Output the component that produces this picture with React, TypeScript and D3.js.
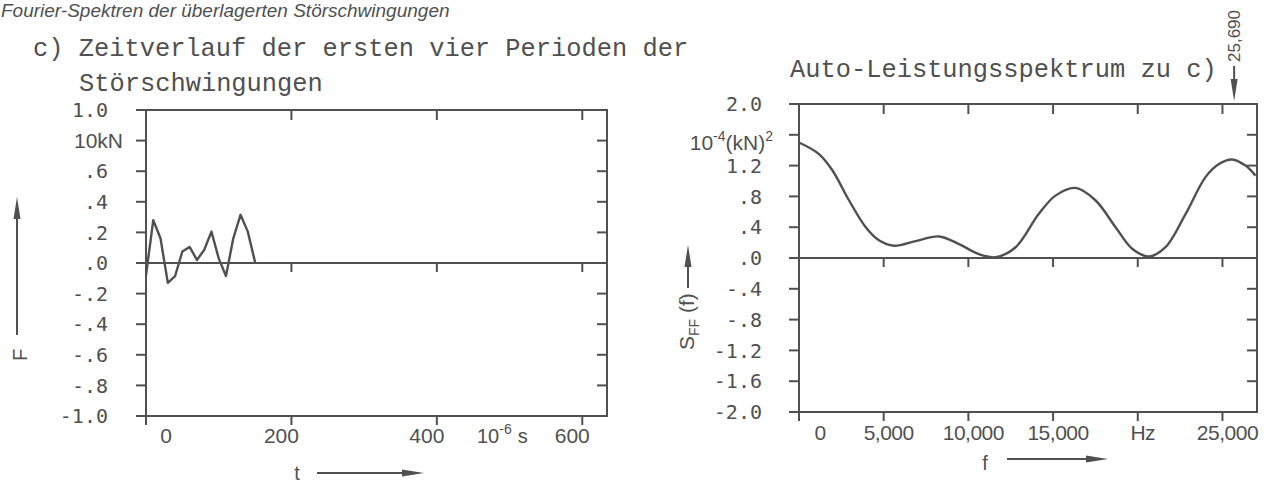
import React from 'react';
import * as d3 from 'd3';

// c) time history of the first four periods (t in 10^-6 s, F in 10 kN)
const timeUs = [0, 10, 20, 30, 40, 50, 60, 70, 80, 90, 100, 110, 120, 130, 140, 150];
const forceValues = [-0.08, 0.28, 0.16, -0.13, -0.085, 0.075, 0.105, 0.02, 0.085, 0.205, 0.03, -0.085, 0.16, 0.315, 0.205, 0.005];

// auto power spectrum (f in Hz, S_FF in 10^-4 (kN)^2)
const freqHz = [0, 1180, 1970, 2950, 3940, 4720, 5610, 6890, 8270, 9450, 10630, 11610, 12790, 14150, 15140, 16320, 17500, 18690, 19670, 20660, 21640, 22820, 24000, 24790, 25570, 26360, 26950];
const spectrumValues = [1.5, 1.35, 1.14, 0.75, 0.4, 0.23, 0.16, 0.22, 0.28, 0.18, 0.05, 0.01, 0.14, 0.57, 0.81, 0.91, 0.75, 0.4, 0.12, 0.02, 0.14, 0.57, 1.05, 1.22, 1.28, 1.2, 1.07];

const forceTicks = [1, 0.8, 0.6, 0.4, 0.2, 0, -0.2, -0.4, -0.6, -0.8, -1];
const forceTickLabels = ['1.0', '10kN', '.6', '.4', '.2', '.0', '-.2', '-.4', '-.6', '-.8', '-1.0'];
const timeTicks = [0, 200, 400, 600];
const timeTickLabels = ['0', '200', '400', '600'];

const spectrumTicks = [2, 1.6, 1.2, 0.8, 0.4, 0, -0.4, -0.8, -1.2, -1.6, -2];
const spectrumTickLabels = ['2.0', '', '1.2', '.8', '.4', '.0', '-.4', '-.8', '-1.2', '-1.6', '-2.0'];
const freqTicks = [0, 5000, 10000, 15000, 20000, 25000];
const freqTickLabels = ['0', '5,000', '10,000', '15,000', 'Hz', '25,000'];
const markerFreq = 25690;
const markerLabel = '25,690';

const INK = '#505050';
const MONO = '"Liberation Mono", "Courier New", monospace';
const PLOT = '"DejaVu Sans Mono", monospace';
const SANS = '"Liberation Sans", Arial, sans-serif';

function Frame({ xs, ys, xTicks, yTicks }: any) {
  const [x0, x1] = xs.range();
  const [yb, yt] = ys.range();
  const yz = ys(0);
  return (
    <g stroke={INK} strokeWidth={2} fill="none" strokeLinecap="square">
      <rect x={x0} y={yt} width={x1 - x0} height={yb - yt} />
      <line x1={x0} x2={x1} y1={yz} y2={yz} />
      {yTicks.map((v: number) => (
        <g key={v}>
          <line x1={x0 - 9} x2={x0} y1={ys(v)} y2={ys(v)} />
          <line x1={x1 - 9} x2={x1} y1={ys(v)} y2={ys(v)} />
        </g>
      ))}
      {xTicks.map((v: number) => (
        <g key={v}>
          <line x1={xs(v)} x2={xs(v)} y1={yt} y2={yt + 9} />
          <line x1={xs(v)} x2={xs(v)} y1={yz} y2={yz + 8} />
          <line x1={xs(v)} x2={xs(v)} y1={yb} y2={yb + 8} />
        </g>
      ))}
    </g>
  );
}

function Arrow({ x1, y1, x2, y2 }: any) {
  const a = Math.atan2(y2 - y1, x2 - x1);
  const len = 22, w = 3.5;
  const bx = x2 - len * Math.cos(a), by = y2 - len * Math.sin(a);
  const nx = -Math.sin(a) * w, ny = Math.cos(a) * w;
  return (
    <g>
      <line x1={x1} y1={y1} x2={bx} y2={by} stroke={INK} strokeWidth={2} />
      <polygon points={`${x2},${y2} ${bx + nx},${by + ny} ${bx - nx},${by - ny}`} fill={INK} />
    </g>
  );
}

export default function App() {
  const xL = d3.scaleLinear().domain([0, 634]).range([146, 607]);
  const yL = d3.scaleLinear().domain([-1, 1]).range([416, 110]);
  const xR = d3.scaleLinear().domain([0, 27040]).range([799, 1257]);
  const yR = d3.scaleLinear().domain([-2, 2]).range([412, 104]);

  const forceLine = d3.line<number>()
    .x((_, i) => xL(timeUs[i]))
    .y((d) => yL(d));
  const spectrumLine = d3.line<number>()
    .x((_, i) => xR(freqHz[i]))
    .y((d) => yR(d))
    .curve(d3.curveCatmullRom.alpha(0.5));

  return (
    <svg width={1271} height={484} style={{ position: 'absolute', left: 0, top: 0, background: '#fff' }}>
      <text x={1} y={17} fontFamily={SANS} fontStyle="italic" fontSize={19} fill={INK}>
        Fourier-Spektren der überlagerten Störschwingungen
      </text>

      <g fontFamily={MONO} fontSize={25.4} fill={INK}>
        <text x={33} y={56}>c) Zeitverlauf der ersten vier Perioden der</text>
        <text x={79} y={91}>Störschwingungen</text>
        <text x={790} y={77}>Auto-Leistungsspektrum zu c)</text>
      </g>

      {/* left panel: time history */}
      <Frame xs={xL} ys={yL} xTicks={timeTicks} yTicks={forceTicks} />
      <path d={forceLine(forceValues) ?? ''} fill="none" stroke={INK} strokeWidth={2.4} strokeLinejoin="round" />
      {forceTicks.map((v, i) =>
        forceTickLabels[i] === '10kN' ? (
          <text key={v} x={123} y={yL(v)} dy="0.36em" textAnchor="end" fontFamily={SANS} fontSize={21} fill={INK}>
            {forceTickLabels[i]}
          </text>
        ) : (
          <text key={v} x={108} y={yL(v)} dy="0.36em" textAnchor="end" fontFamily={PLOT} fontSize={20} fill={INK}>
            {forceTickLabels[i]}
          </text>
        )
      )}
      {timeTicks.map((v, i) => (
        <text key={v} x={xL(v) + (v === 0 ? 20 : -10)} y={443} textAnchor="middle" fontFamily={SANS} fontSize={21} fill={INK}>
          {timeTickLabels[i]}
        </text>
      ))}
      <text x={477} y={443} fontFamily={SANS} fontSize={20} fill={INK}>
        10<tspan dy={-9} fontSize={14}>-6</tspan><tspan dy={9} dx={6}>s</tspan>
      </text>
      <text x={297} y={480} textAnchor="middle" fontFamily={SANS} fontSize={20} fill={INK}>t</text>
      <Arrow x1={317} y1={473} x2={424} y2={473} />
      <Arrow x1={17} y1={335} x2={17} y2={197} />
      <text transform="translate(27,355) rotate(-90)" textAnchor="middle" fontFamily={SANS} fontSize={20} fill={INK}>F</text>

      {/* right panel: auto power spectrum */}
      <Frame xs={xR} ys={yR} xTicks={freqTicks} yTicks={spectrumTicks} />
      <path d={spectrumLine(spectrumValues) ?? ''} fill="none" stroke={INK} strokeWidth={2.4} />
      {spectrumTicks.map((v, i) =>
        spectrumTickLabels[i] === '' ? (
          <text key={v} x={773} y={yR(v) + 15} textAnchor="end" fontFamily={SANS} fontSize={21} fill={INK}>
            10<tspan dy={-9} fontSize={14}>-4</tspan><tspan dy={9}>(kN)</tspan><tspan dy={-9} fontSize={14}>2</tspan>
          </text>
        ) : (
          <text key={v} x={762} y={yR(v)} dy="0.36em" textAnchor="end" fontFamily={PLOT} fontSize={20} fill={INK}>
            {spectrumTickLabels[i]}
          </text>
        )
      )}
      {freqTicks.map((v, i) => (
        <text key={v} x={xR(v) + (v === 0 ? 21 : 5)} y={440} textAnchor="middle" fontFamily={SANS} fontSize={21} fill={INK} letterSpacing={-0.5}>
          {freqTickLabels[i]}
        </text>
      ))}
      <text x={985} y={470} textAnchor="middle" fontFamily={SANS} fontSize={20} fill={INK}>f</text>
      <Arrow x1={1007} y1={459} x2={1108} y2={459} />
      <text transform="translate(694,350) rotate(-90)" fontFamily={SANS} fontSize={21} fill={INK}>
        S<tspan dy={5} fontSize={14}>FF</tspan><tspan dy={-5}> (f)</tspan>
      </text>
      <Arrow x1={688} y1={288} x2={688} y2={245} />

      <text transform={`translate(${xR(markerFreq) + 6},62) rotate(-90)`} fontFamily={SANS} fontSize={17} fill={INK}>
        {markerLabel}
      </text>
      <Arrow x1={xR(markerFreq)} y1={66} x2={xR(markerFreq)} y2={101} />
    </svg>
  );
}
